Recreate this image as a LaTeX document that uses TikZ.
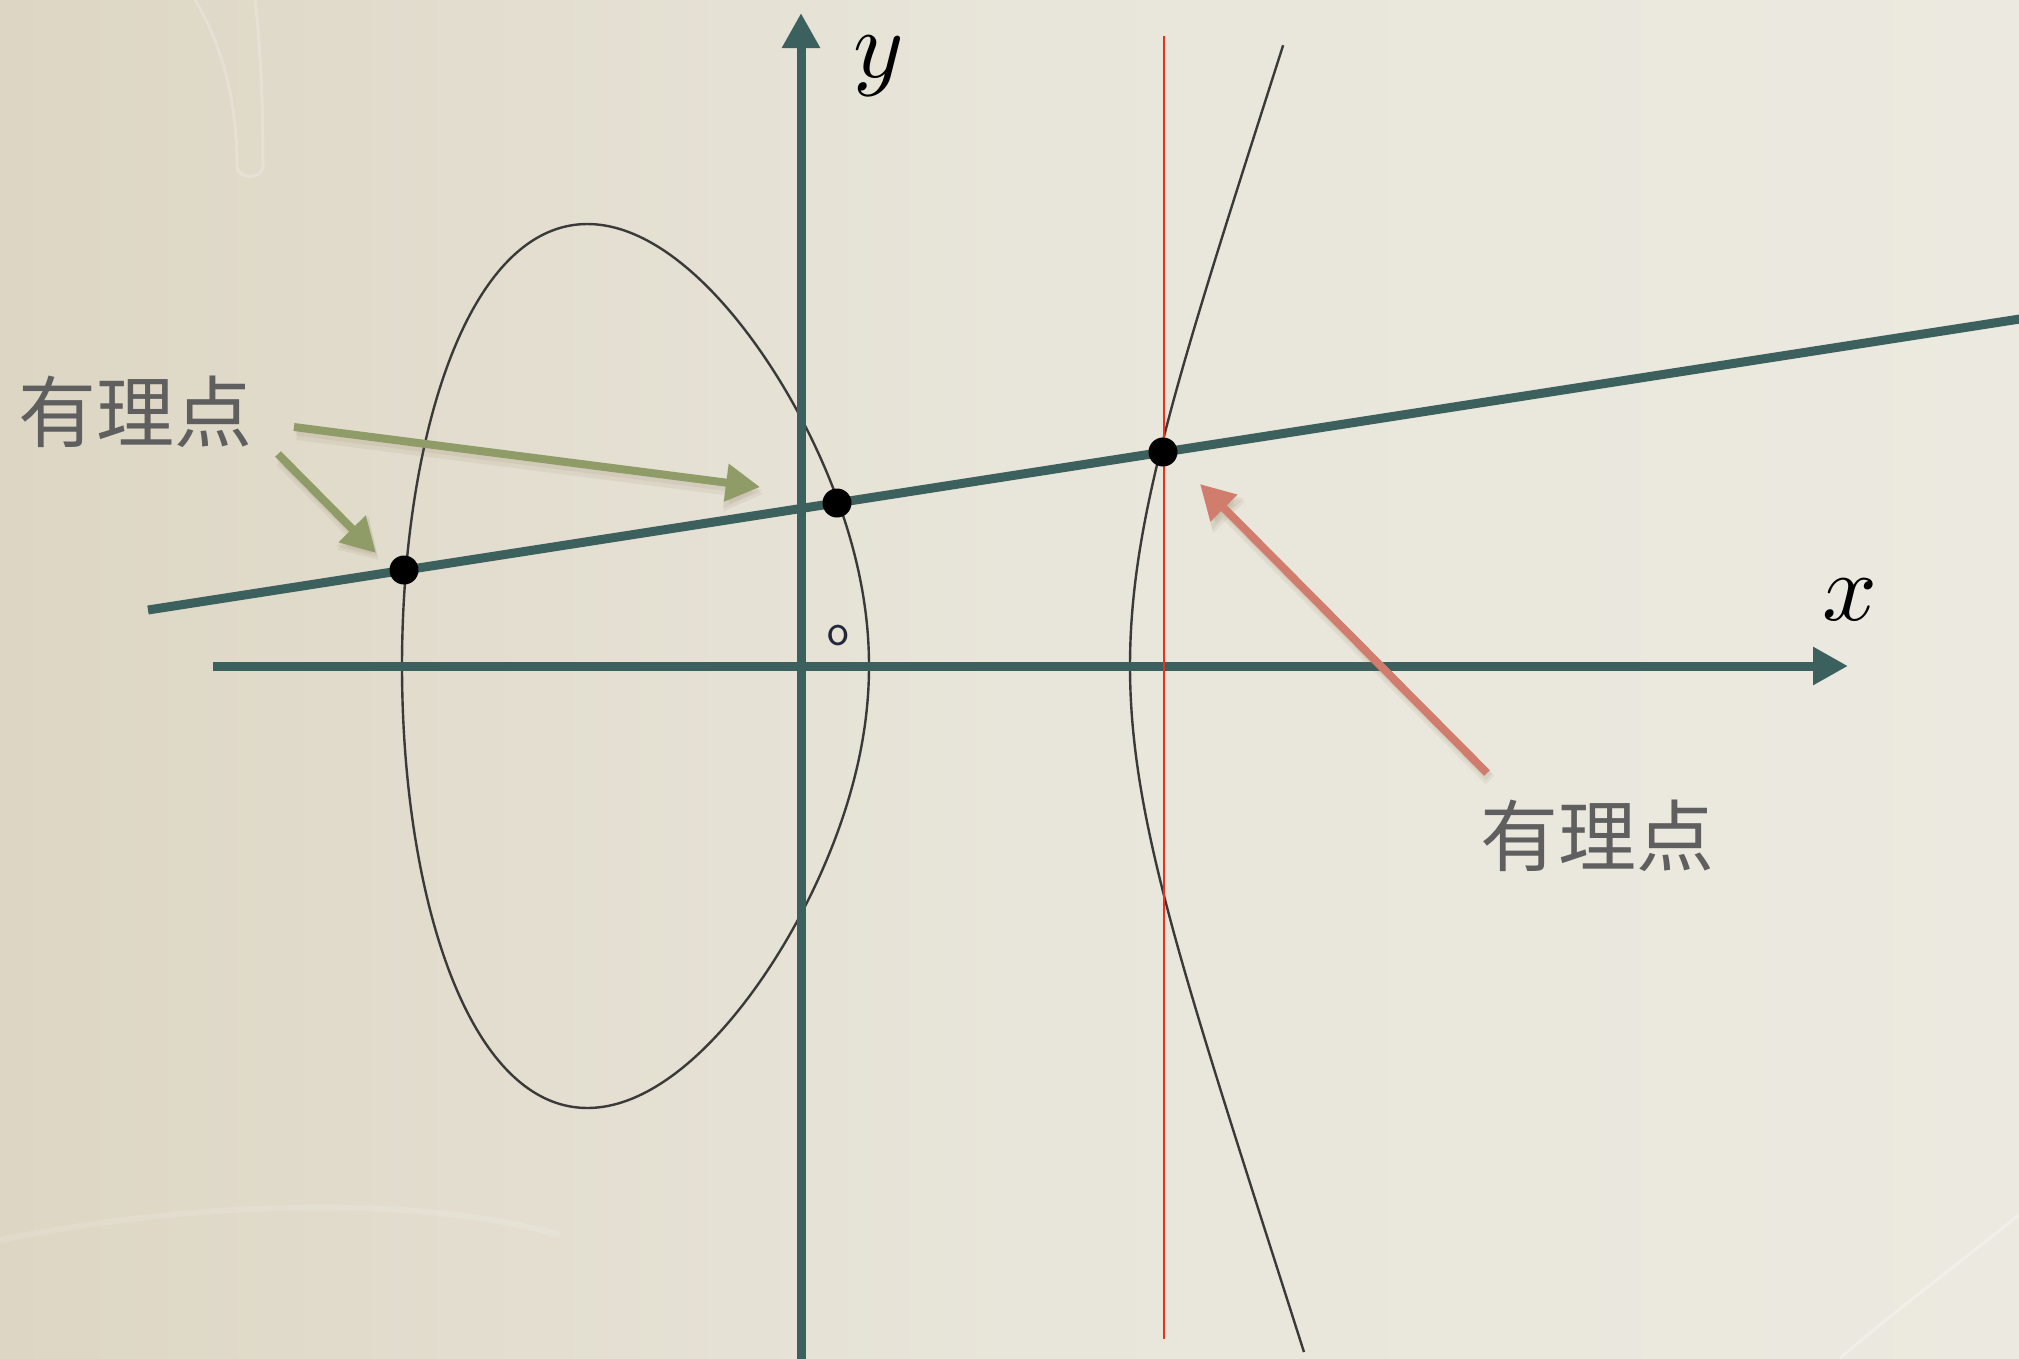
\documentclass[tikz,border=0pt]{standalone}
\usepackage{fontspec}
\newfontfamily\cjk{Noto Sans CJK SC}
\usetikzlibrary{arrows.meta}
\definecolor{axisc}{RGB}{60,96,94}
\definecolor{greenc}{RGB}{143,156,104}
\definecolor{salmonc}{RGB}{208,125,110}
\definecolor{redc}{RGB}{232,50,30}
\definecolor{curvec}{RGB}{58,58,58}
\definecolor{labelc}{RGB}{95,95,95}
\definecolor{bgl}{RGB}{221,214,196}
\definecolor{bgm}{RGB}{232,229,218}
\definecolor{bgr}{RGB}{236,233,224}
\definecolor{shadowc}{RGB}{120,95,60}
\tikzset{
  axis/.style={draw=axisc, line width=9pt, -{Triangle[length=35pt,width=36pt]}},
  secant/.style={draw=axisc, line width=9pt},
  curve/.style={draw=curvec, line width=2.4pt, line join=round},
  dot/.style={circle, fill=black, inner sep=0pt, minimum size=29pt},
  pointer/.style={line width=8pt, -{Triangle[length=34pt,width=36pt]}},
  pshadow/.style={line width=12pt, draw=shadowc, opacity=0.08, -{Triangle[length=37pt,width=42pt]}},
  cjklabel/.style={inner sep=0pt, text=labelc, font=\cjk\fontsize{78}{78}\selectfont},
  mathlabel/.style={inner sep=0pt, anchor=base},
  ornament/.style={draw=white, line width=3pt, opacity=0.2},
}
\begin{document}
\begin{tikzpicture}[x=1pt,y=-1pt]
\useasboundingbox (0,0) rectangle (2019,1358);
\clip (0,0) rectangle (2019,1358);
% background
\shade[left color=bgl, right color=bgr, middle color=bgm] (0,0) rectangle (2019,1358);
% faint ornaments
\draw[ornament] (195,0) .. controls (228,55) and (237,115) .. (237,166)
  .. controls (237,180) and (263,180) .. (263,166) .. controls (263,100) and (260,40) .. (255,0);
\draw[ornament, opacity=0.12, line width=6pt] (0,1240) .. controls (200,1200) and (420,1195) .. (560,1235);
\draw[ornament, opacity=0.3] (2019,1215) .. controls (1950,1270) and (1890,1315) .. (1840,1358);

% elliptic curve: oval and right branch
\draw[curve] plot[domain=0:360, samples=361, variable=\t]
  ({100*(4.02+2.335*(1-cos(\t)))}, {666-193.9*sin(\t)*sqrt(abs(11.30-(4.02+2.335*(1-cos(\t)))))}) -- cycle;
\draw[curve] plot[domain=-1.319:1.24, samples=240, variable=\s]
  ({100*(11.30+\s*\s)}, {666-83.04*\s*sqrt((7.28+\s*\s)*(2.61+\s*\s))});

% axes
\coordinate (xs) at (213,666);
\coordinate (xe) at (1848,666);
\coordinate (ys) at (801,1370);
\coordinate (ye) at (801,13);
\draw[axis] (xs) -- (xe);
\draw[axis] (ys) -- (ye);

% vertical red line
\coordinate (rt) at (1164,36);
\coordinate (rb) at (1164,1339);
\draw[redc, line width=2.6pt] (rt) -- (rb);

% secant line
\coordinate (L1) at (148,610);
\coordinate (L2) at (2030,317.4);
\draw[secant] (L1) -- (L2);

% labels
\node[mathlabel] (ylab) at (879,77) {\scalebox{9.6}{$y$}};
\node[mathlabel] (xlab) at (1850,620) {\scalebox{9.6}{$x$}};
\node[inner sep=0pt, anchor=base, font=\sffamily\fontsize{46}{46}\selectfont, text={rgb,255:red,35;green,40;blue,60}] (olab) at (838,645) {o};

% rational points
\node[dot] (p1) at (404,570) {};
\node[dot] (p2) at (837,503) {};
\node[dot] (p3) at (1163,452) {};

% callouts
\node[cjklabel] (lab1) at (136,412) {有理点};
\node[cjklabel] (lab2) at (1597,836) {有理点};

\coordinate (g1s) at (278,454);
\coordinate (g1e) at (376,553);
\coordinate (g2s) at (294,427);
\coordinate (g2e) at (760,487);
\coordinate (rs) at (1487,773);
\coordinate (re) at (1200,484);

\begin{scope}[transform canvas={shift={(3,7)}}]
\draw[pshadow] (g1s) -- (g1e);
\draw[pshadow] (g2s) -- (g2e);
\draw[pshadow] (rs) -- (re);
\end{scope}
\begin{scope}[transform canvas={shift={(2,4)}}]
\draw[pshadow, line width=9pt] (g1s) -- (g1e);
\draw[pshadow, line width=9pt] (g2s) -- (g2e);
\draw[pshadow, line width=9pt] (rs) -- (re);
\end{scope}
\draw[pointer, draw=greenc] (g1s) -- (g1e);
\draw[pointer, draw=greenc] (g2s) -- (g2e);
\draw[pointer, draw=salmonc] (rs) -- (re);
\end{tikzpicture}
\end{document}
